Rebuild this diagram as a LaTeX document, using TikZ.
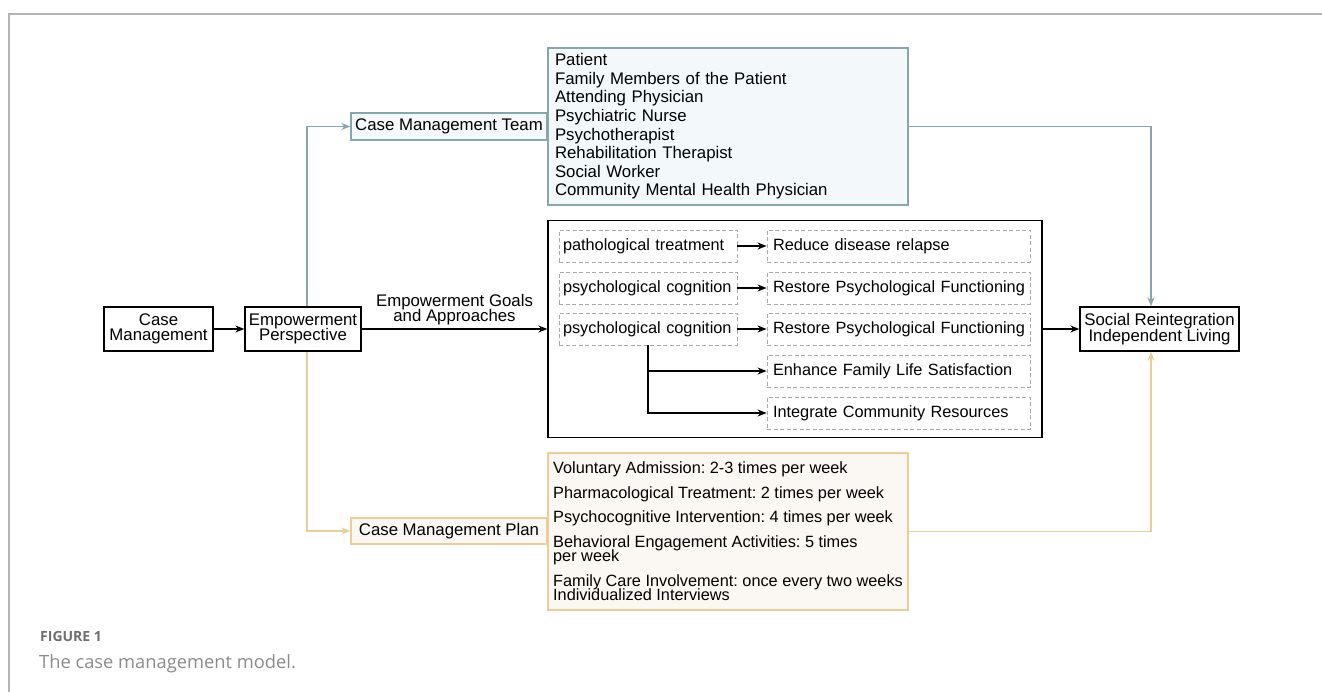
\documentclass[tikz,border=0pt]{standalone}
\usepackage{fontspec}
\setmainfont{Liberation Sans}
\newfontfamily\capfont{Open Sans}
\usetikzlibrary{arrows.meta}
\definecolor{teamline}{HTML}{86A6B0}
\definecolor{teamfill}{HTML}{F3F9FB}
\definecolor{planline}{HTML}{EACD98}
\definecolor{planfill}{HTML}{FBF8F3}
\definecolor{framegray}{HTML}{B4B4B4}
\definecolor{capgray}{HTML}{6E6E6E}
\definecolor{dashgray}{HTML}{A8A8A8}
\frenchspacing
\lineskiplimit=-20pt

\begin{document}
\begin{tikzpicture}[x=1pt,y=-1pt,
    every node/.style={font=\fontsize{16.8}{15.5}\selectfont, inner sep=0pt},
    box/.style={draw, line width=1.3pt, align=center},
    teambox/.style={draw=teamline, fill=teamfill, line width=1.3pt},
    planbox/.style={draw=planline, fill=planfill, line width=1.3pt},
    dbox/.style={draw=dashgray, dash pattern=on 4pt off 2.5pt, line width=0.9pt,
      font=\fontsize{16.3}{14}\selectfont, minimum height=32pt, align=left,
      execute at begin node=\hbox\bgroup, execute at end node=\egroup},
    arr/.style={line width=1.3pt, -{Stealth[length=9pt,width=7pt]}},
    teamarr/.style={arr, draw=teamline, -{Stealth[length=9pt,width=7pt,fill=teamline]}},
    planarr/.style={arr, draw=planline, -{Stealth[length=9pt,width=7pt,fill=planline]}}]
  \useasboundingbox (0,0) rectangle (1322,692);
  \draw[framegray, line width=1.5pt] (1322,14) -- (9,14) -- (9,692);

  \node[box, minimum width=109pt, minimum height=44pt] (cm) at (158.5,329) {Case\\Management};
  \node[box, minimum width=116pt, minimum height=44pt] (ep) at (303,329) {Empowerment\\Perspective};
  \node[teambox, minimum width=196pt, minimum height=27pt] (cmt) at (449,126.5) {Case Management Team};
  \node[teambox, minimum width=360pt, minimum height=157pt, text width=346pt, inner xsep=7pt,
    align=left, font=\fontsize{16.8}{18.6}\selectfont] (team) at (728,126.5)
    {Patient\\Family Members of the Patient\\Attending Physician\\Psychiatric Nurse\\Psychotherapist\\Rehabilitation Therapist\\Social Worker\\Community Mental Health Physician};
  \node[planbox, minimum width=196pt, minimum height=26pt] (plan) at (449,531) {Case Management Plan};
  \node[planbox, minimum width=360pt, minimum height=157pt, align=left,
    font=\fontsize{16.3}{14}\selectfont] (planlist) at (728,531.5)
    {Voluntary Admission: 2-3 times per week\\[11pt]Pharmacological Treatment: 2 times per week\\[10pt]Psychocognitive Intervention: 4 times per week\\[11pt]Behavioral Engagement Activities: 5 times\\per week\\[11pt]Family Care Involvement: once every two weeks\\Individualized Interviews};
  \node[box, minimum width=494pt, minimum height=217pt] (goals) at (795,329) {};
  \node[box, minimum width=159pt, minimum height=44pt] (sr) at (1159.5,329) {Social Reintegration\\Independent Living};

  \node[dbox, text width=170pt, inner xsep=4pt] (l1) at (648,246) {pathological treatment};
  \node[dbox, text width=170pt, inner xsep=4pt] (l2) at (648,288) {psychological cognition};
  \node[dbox, text width=170pt, inner xsep=4pt] (l3) at (648,329) {psychological cognition};
  \node[dbox, text width=251pt, inner xsep=6pt] (r1) at (898.5,246) {Reduce disease relapse};
  \node[dbox, text width=251pt, inner xsep=6pt] (r2) at (898.5,288) {Restore Psychological Functioning};
  \node[dbox, text width=251pt, inner xsep=6pt] (r3) at (898.5,329) {Restore Psychological Functioning};
  \node[dbox, text width=251pt, inner xsep=6pt] (r4) at (898.5,371) {Enhance Family Life Satisfaction};
  \node[dbox, text width=251pt, inner xsep=6pt] (r5) at (898.5,413) {Integrate Community Resources};

  \node[anchor=base west, text=capgray, font=\capfont\bfseries\fontsize{14}{16}\selectfont] (fig) at (40,641) {FIGURE 1};
  \node[anchor=base west, text=capgray!80, font=\capfont\fontsize{18.3}{20}\selectfont] (caption) at (39,668) {The case management model.};

  \begin{scope}
    \draw[arr] (cm) -- (ep);
    \draw[arr] (ep) -- node[above=3pt, align=center] (goallabel) {Empowerment Goals\\and Approaches} (goals);
    \draw[arr] (goals) -- (sr);
    \draw[arr] (l1) -- (r1);
    \draw[arr] (l2) -- (r2);
    \draw[arr] (l3) -- (r3);
    \draw[arr] (l3.south) |- (r4.west);
    \draw[arr] (l3.south) |- (r5.west);
    \draw[teamarr] ([xshift=4pt]ep.north) |- (cmt.west);
    \draw[teamarr] (team.east) -| ([xshift=-8.5pt]sr.north);
    \draw[planarr] ([xshift=4pt]ep.south) |- (plan.west);
    \draw[planarr] (planlist.east) -| ([xshift=-8.5pt]sr.south);
  \end{scope}
\end{tikzpicture}
\end{document}
